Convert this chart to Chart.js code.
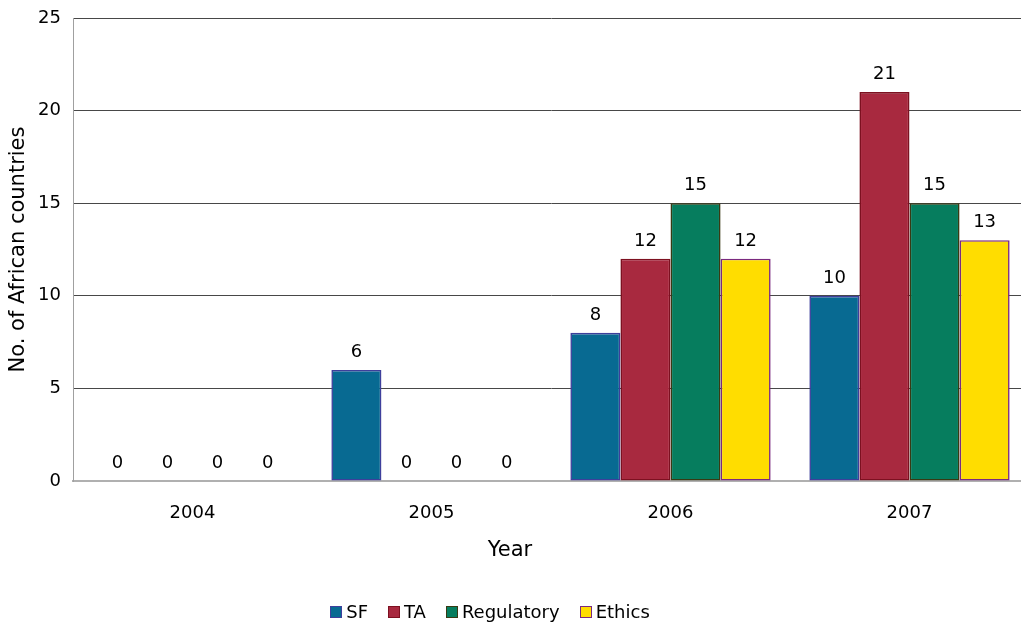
<!DOCTYPE html>
<html>
<head>
<meta charset="utf-8">
<script src="https://cdn.jsdelivr.net/npm/chart.js@4"></script>
<style>
  html, body { margin: 0; padding: 0; background: #fff; overflow: hidden; width: 1021px; height: 626px; }
  #wrap { position: relative; width: 1040px; height: 626px; }
  #legend {
    position: absolute; left: 0; top: 601px; width: 980px;
    display: flex; justify-content: center; align-items: center;
    font-family: 'DejaVu Sans', Verdana, sans-serif; font-size: 18px; color: #000;
  }
  .item { display: flex; align-items: center; margin: 0 10px; }
  .box { width: 10px; height: 10px; border: 1.5px solid; margin-right: 4px; }
</style>
</head>
<body>
<div id="wrap">
  <canvas id="chart" width="1040" height="626"></canvas>
  <div id="legend"></div>
</div>
<script>
// ── Data ──────────────────────────────────────
const years      = ['2004', '2005', '2006', '2007'];
const sfData     = [0, 6, 8, 10];
const taData     = [0, 0, 12, 21];
const regData    = [0, 0, 15, 15];
const ethicsData = [0, 0, 12, 13];
const yTicks     = [0, 5, 10, 15, 20, 25];

const FONT = "'DejaVu Sans', Verdana, sans-serif";

const SERIES = [
  { label: 'SF',         data: sfData,     fill: '#086A92', border: '#3E3F9C' },
  { label: 'TA',         data: taData,     fill: '#A8293F', border: '#7D1020' },
  { label: 'Regulatory', data: regData,    fill: '#067D5E', border: '#383A14' },
  { label: 'Ethics',     data: ethicsData, fill: '#FFDD00', border: '#7A2A80' },
];

// ── Value labels + x title ────────────────────
const valueLabels = {
  id: 'valueLabels',
  afterDatasetsDraw(chart) {
    const ctx = chart.ctx;
    ctx.save();
    ctx.font = '18px ' + FONT;
    ctx.fillStyle = '#000';
    ctx.textAlign = 'center';
    ctx.textBaseline = 'alphabetic';
    chart.data.datasets.forEach((ds, i) => {
      chart.getDatasetMeta(i).data.forEach((bar, j) => {
        ctx.fillText(String(ds.data[j]), bar.x, bar.y - 13);
      });
    });
    // x axis title, placed like the original (left of plot centre)
    const area = chart.chartArea;
    ctx.font = '21px ' + FONT;
    ctx.fillText('Year', area.left + 437, area.bottom + 75);
    ctx.restore();
  },
};

new Chart(document.getElementById('chart'), {
  type: 'bar',
  data: {
    labels: years,
    datasets: SERIES.map(s => ({
      label: s.label,
      data: s.data,
      backgroundColor: s.fill,
      borderColor: s.border,
      borderWidth: 1.6,
      borderSkipped: false,
    })),
  },
  options: {
    responsive: false,
    animation: false,
    layout: { padding: { top: 18, right: 11, left: 0, bottom: 0 } },
    datasets: { bar: { categoryPercentage: 0.838, barPercentage: 1 } },
    plugins: { legend: { display: false }, tooltip: { enabled: false } },
    scales: {
      x: {
        grid: { display: false, drawTicks: false },
        border: { display: true, color: '#b0b0b0', width: 2 },
        ticks: { color: '#000', font: { family: FONT, size: 18 }, padding: 22 },
        afterFit(scale) { scale.height = 145; },
      },
      y: {
        min: 0, max: 25,
        afterBuildTicks(scale) { scale.ticks = yTicks.map(v => ({ value: v })); },
        grid: { color: '#484848', lineWidth: 1, drawTicks: false },
        border: { display: true, color: '#a0a0a0', width: 1 },
        ticks: { color: '#000', font: { family: FONT, size: 18 }, padding: 12 },
        title: {
          display: true, text: 'No. of African countries', color: '#000',
          font: { family: FONT, size: 21 }, padding: { top: 6, bottom: 0 },
        },
        afterFit(scale) {
          scale.width = 73;
          scale.paddingTop = 0;
          scale.paddingBottom = 0;
        },
      },
    },
  },
  plugins: [valueLabels],
});

// ── Legend ────────────────────────────────────
const legend = document.getElementById('legend');
SERIES.forEach(s => {
  const item = document.createElement('div');
  item.className = 'item';
  item.innerHTML = `<span class="box" style="background:${s.fill};border-color:${s.border}"></span>${s.label}`;
  legend.appendChild(item);
});
</script>
</body>
</html>
